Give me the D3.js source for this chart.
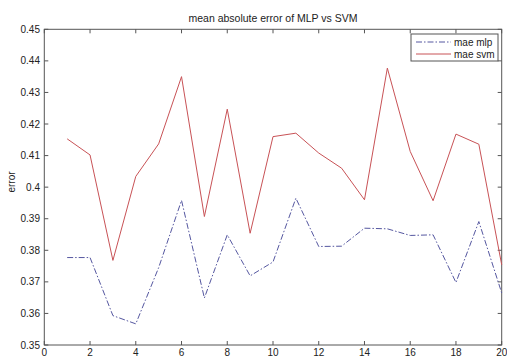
<!DOCTYPE html>
<html><head><meta charset="utf-8">
<script src="https://cdn.jsdelivr.net/npm/d3@7"></script>
<style>body{margin:0;background:#fff;} svg{display:block;font-family:"Liberation Sans",Arial,sans-serif;}</style>
</head><body>
<svg id="c" width="507" height="361"></svg>
<script>
const runs = d3.range(1, 21);
const maeMlp = [0.3777,0.3777,0.3593,0.3567,0.3745,0.3958,0.3649,0.3849,0.3719,0.3763,0.3965,0.3812,0.3813,0.3870,0.3868,0.3847,0.3849,0.3698,0.3891,0.3665];
const maeSvm = [0.4153,0.4102,0.3768,0.4034,0.4137,0.4350,0.3907,0.4247,0.3854,0.4160,0.4171,0.4108,0.4060,0.3960,0.4377,0.4113,0.3957,0.4168,0.4136,0.3754];
const xTicks = d3.range(0, 21, 2);
const yTicks = [0.35,0.36,0.37,0.38,0.39,0.40,0.41,0.42,0.43,0.44,0.45];
const yTickLabels = ["0.35","0.36","0.37","0.38","0.39","0.4","0.41","0.42","0.43","0.44","0.45"];
const seriesNames = ["mae mlp","mae svm"];
const colors = ["#5557a0","#c85256"];

const svg = d3.select("#c");
const L = 44.3, R = 501.7, T = 29.3, B = 345;
const x = d3.scaleLinear().domain([0,20]).range([L,R]);
const y = d3.scaleLinear().domain([0.35,0.45]).range([B,T]);

// box
svg.append("rect").attr("x",L).attr("y",T).attr("width",R-L).attr("height",B-T)
  .attr("fill","none").attr("stroke","#555").attr("stroke-width",1);

// axes (inward ticks)
const tickLen = 4;
const ax = svg.append("g").attr("stroke","#555").attr("stroke-width",1);
xTicks.forEach(t=>{
  ax.append("line").attr("x1",x(t)).attr("x2",x(t)).attr("y1",B).attr("y2",B-tickLen);
  ax.append("line").attr("x1",x(t)).attr("x2",x(t)).attr("y1",T).attr("y2",T+tickLen);
});
yTicks.forEach(t=>{
  ax.append("line").attr("x1",L).attr("x2",L+tickLen).attr("y1",y(t)).attr("y2",y(t));
  ax.append("line").attr("x1",R).attr("x2",R-tickLen).attr("y1",y(t)).attr("y2",y(t));
});
svg.append("g").selectAll("text").data(xTicks).join("text")
  .attr("x",d=>x(d)).attr("y",356).attr("text-anchor","middle")
  .attr("font-size",10).attr("fill","#222").text(d=>d);
svg.append("g").selectAll("text").data(yTicks).join("text")
  .attr("x",40).attr("y",d=>y(d)+3.5).attr("text-anchor","end")
  .attr("font-size",10).attr("fill","#222").text((d,i)=>yTickLabels[i]);

// labels
svg.append("text").attr("x",273).attr("y",22).attr("text-anchor","middle")
  .attr("font-size",10.5).attr("fill","#222").text("mean absolute error of MLP vs SVM");
svg.append("text").attr("transform","translate(15,182) rotate(-90)").attr("text-anchor","middle")
  .attr("font-size",10).attr("fill","#222").text("error");

// lines
const line = d3.line().x((d,i)=>x(runs[i])).y(d=>y(d));
svg.append("path").datum(maeSvm).attr("d",line).attr("fill","none")
  .attr("stroke",colors[1]).attr("stroke-width",1);
svg.append("path").datum(maeMlp).attr("d",line).attr("fill","none")
  .attr("stroke",colors[0]).attr("stroke-width",1).attr("stroke-dasharray","6,2,1.5,2");

// legend
const lg = svg.append("g");
const lx = 411, ly = 34, lw = 87, lh = 27;
lg.append("rect").attr("x",lx).attr("y",ly).attr("width",lw).attr("height",lh)
  .attr("fill","#fff").attr("stroke","#555").attr("stroke-width",1);
seriesNames.forEach((n,i)=>{
  const yy = ly + 8 + i*12;
  lg.append("line").attr("x1",lx+5).attr("x2",lx+40).attr("y1",yy).attr("y2",yy)
    .attr("stroke",colors[i]).attr("stroke-width",1)
    .attr("stroke-dasharray", i===0 ? "6,2,1.5,2" : null);
  lg.append("text").attr("x",lx+43).attr("y",yy+3.5).attr("font-size",10)
    .attr("fill","#222").text(n);
});
</script>
</body></html>
